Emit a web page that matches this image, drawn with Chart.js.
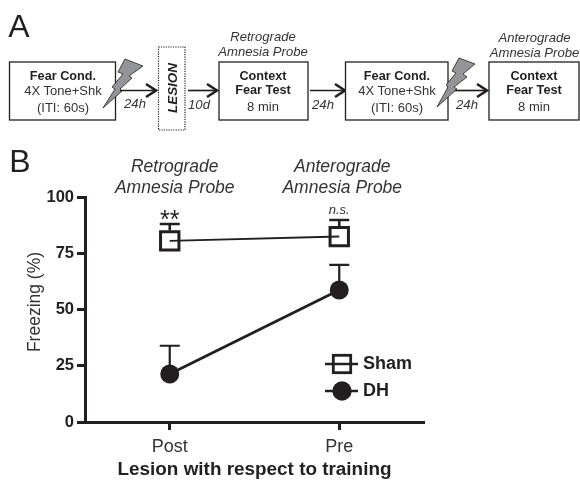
<!DOCTYPE html>
<html><head><meta charset="utf-8">
<script src="https://cdn.jsdelivr.net/npm/chart.js@4/dist/chart.umd.min.js"></script>
<style>
html,body{margin:0;padding:0;background:#fff;width:580px;height:481px;overflow:hidden}
#c{position:absolute;left:0;top:0}
#s{position:absolute;left:0;top:0}
#s text{font-family:"Liberation Sans",Arial,sans-serif;fill:#231f20;text-anchor:middle}
#s .b{font-weight:bold;font-size:12.7px}
#s .n{font-size:13px;fill:#333}
#s .i{font-style:italic;font-size:13.1px;fill:#333}
#s .box{fill:#fff;stroke:#231f20;stroke-width:1.3}
#s .bolt{fill:#939598;stroke:#231f20;stroke-width:.8}
#s .arr{fill:none;stroke:#231f20;stroke-width:1.7}
#s .hd{fill:none;stroke:#231f20;stroke-width:2.6}
</style></head><body>
<canvas id="c" width="580" height="481"></canvas>
<svg id="s" width="580" height="481" viewBox="0 0 580 481">
<text x="19" y="37" style="font-size:32px">A</text>
<text x="20" y="172" style="font-size:32px">B</text>

<rect class="box" x="9.5" y="62" width="106" height="58"/>
<text class="b" x="63" y="80">Fear Cond.</text><text class="n" x="63" y="95">4X Tone+Shk</text><text class="n" x="63" y="112">(ITI: 60s)</text>
<polygon class="bolt" points="125,59 143,66 129,76 132,78 120,89 122,91 103,108 115,89 112,87 123,74 118,72"/>
<path class="arr" d="M120 90.5H155"/><path class="hd" d="M146 84L156 90.5L146 97"/>
<text class="i" x="135" y="108">24h</text>

<rect x="158.5" y="47" width="26.5" height="83" fill="#fff" stroke="#231f20" stroke-width="1.2" stroke-dasharray="1.2 1.2"/>
<text x="172" y="88" transform="rotate(-90 172 88)" dy="4.5" style="font-size:13.4px;font-weight:bold;font-style:italic">LESION</text>

<path class="arr" d="M188 90.5H216"/><path class="hd" d="M207 84L217 90.5L207 97"/>
<text class="i" x="199" y="109">10d</text>

<rect class="box" x="219" y="62" width="89" height="58"/>
<text class="i" x="263" y="41">Retrograde</text><text class="i" x="263" y="55.5">Amnesia Probe</text>
<text class="b" x="263" y="80">Context</text><text class="b" x="263" y="94">Fear Test</text><text class="n" x="263" y="111">8 min</text>

<path class="arr" d="M310 90.5H344"/><path class="hd" d="M335 84L345 90.5L335 97"/>
<text class="i" x="323" y="109">24h</text>

<rect class="box" x="345.5" y="62" width="102.5" height="58"/>
<text class="b" x="397" y="80">Fear Cond.</text><text class="n" x="397" y="95">4X Tone+Shk</text><text class="n" x="397" y="112">(ITI: 60s)</text>
<polygon class="bolt" points="459,58 475,64 463,74 467,77 454,87 457,89 437,107 448,87 446,85 456,73 452,71"/>
<path class="arr" d="M455 90.5H486"/><path class="hd" d="M477 84L487 90.5L477 97"/>
<text class="i" x="467" y="109">24h</text>

<rect class="box" x="489" y="62" width="90" height="58"/>
<text class="i" x="534.5" y="42">Anterograde</text><text class="i" x="534.5" y="57">Amnesia Probe</text>
<text class="b" x="534" y="80">Context</text><text class="b" x="534" y="94">Fear Test</text><text class="n" x="534" y="111">8 min</text>
</svg>
<script>
const categories = ["Post", "Pre"];
const yTicks = [0, 25, 50, 75, 100];
const shamValues = [80.5, 82.4];
const shamErrors = [7.5, 7.4];
const dhValues = [21.3, 58.7];
const dhErrors = [12.6, 11.1];
const seriesNames = ["Sham", "DH"];
const significance = ["**", "n.s."];
const probeLines = [["Retrograde", "Amnesia Probe"], ["Anterograde", "Amnesia Probe"]];
const yAxisTitle = "Freezing (%)";

const INK = "#231f20";
const FONT = '"Liberation Sans", Arial, sans-serif';

const annotate = {
  id: "annotate",
  afterDatasetsDraw(chart) {
    const { ctx, scales: { x, y } } = chart;
    ctx.save();
    ctx.strokeStyle = INK; ctx.fillStyle = INK;
    const bars = [[shamValues, shamErrors, 10.7, 2.6], [dhValues, dhErrors, 9, 2.2]];
    bars.forEach(([vals, errs, markerR, w]) => vals.forEach((v, i) => {
      const px = x.getPixelForValue(i);
      const top = y.getPixelForValue(v + errs[i]);
      ctx.lineWidth = w;
      ctx.beginPath();
      ctx.moveTo(px, y.getPixelForValue(v) - markerR);
      ctx.lineTo(px, top);
      ctx.moveTo(px - 10, top);
      ctx.lineTo(px + 10, top);
      ctx.stroke();
    }));
    ctx.textAlign = "center"; ctx.textBaseline = "alphabetic";
    ctx.fillStyle = "#333";
    ctx.font = "italic 17.5px " + FONT;
    probeLines.forEach((ls, i) => {
      const px = x.getPixelForValue(i) + (i === 0 ? 5 : 3);
      ctx.fillText(ls[0], px, 172);
      ctx.fillText(ls[1], px, 193);
    });
    ctx.fillStyle = INK;
    ctx.font = "25px " + FONT;
    ctx.fillText(significance[0], x.getPixelForValue(0), 228);
    ctx.fillStyle = "#333";
    ctx.font = "italic 13px " + FONT;
    ctx.fillText(significance[1], x.getPixelForValue(1), 214);
    ctx.save();
    ctx.translate(40, 302);
    ctx.rotate(-Math.PI / 2);
    ctx.font = "17.5px " + FONT;
    ctx.fillText(yAxisTitle, 0, 0);
    ctx.restore();
    const lx0 = 325, lx1 = 358, lys = [364, 391];
    ctx.fillStyle = INK; ctx.textAlign = "left"; ctx.textBaseline = "middle";
    ctx.font = "bold 18px " + FONT;
    lys.forEach((ly, i) => {
      ctx.lineWidth = 2.4;
      ctx.beginPath(); ctx.moveTo(lx0, ly); ctx.lineTo(lx1, ly); ctx.stroke();
      const cx = (lx0 + lx1) / 2 + 0.5;
      if (i === 0) { ctx.lineWidth = 2.8; ctx.strokeRect(cx - 8.7, ly - 8.7, 17.4, 17.4); }
      else { ctx.beginPath(); ctx.arc(cx, ly, 9.7, 0, Math.PI * 2); ctx.fill(); }
      ctx.fillText(seriesNames[i], 363, ly + 0.5);
    });
    ctx.restore();
  }
};

new Chart(document.getElementById("c"), {
  type: "line",
  data: {
    labels: categories,
    datasets: [
      { label: seriesNames[0], data: shamValues, borderColor: INK, borderWidth: 2, tension: 0,
        pointStyle: "rect", pointRadius: 13, pointHoverRadius: 13, pointBorderWidth: 3,
        pointBorderColor: INK, pointBackgroundColor: "transparent" },
      { label: seriesNames[1], data: dhValues, borderColor: INK, borderWidth: 2.8, tension: 0,
        pointStyle: "circle", pointRadius: 9.5, pointHoverRadius: 9.5, pointBorderWidth: 0,
        pointBackgroundColor: INK }
    ]
  },
  options: {
    responsive: false, animation: false,
    layout: { padding: { left: 22, right: 156, top: 197, bottom: 0 } },
    plugins: { legend: { display: false }, tooltip: { enabled: false } },
    scales: {
      x: {
        offset: true,
        afterFit: s => { s.height = 59; },
        grid: { drawOnChartArea: false, drawTicks: true, tickLength: 8, tickWidth: 3, tickColor: INK, offset: false },
        border: { color: INK, width: 3 },
        ticks: { color: "#333", font: { family: FONT, size: 18 }, padding: 6, maxRotation: 0 },
        title: { display: true, text: "Lesion with respect to training", color: INK,
                 font: { family: FONT, size: 18.9, weight: "bold" }, padding: { top: 0, bottom: 0 } }
      },
      y: {
        min: 0, max: 100,
        afterFit: s => { s.width = 63; },
        afterBuildTicks: s => { s.ticks = yTicks.map(v => ({ value: v })); },
        grid: { drawOnChartArea: false, tickLength: 8, tickWidth: 3, tickColor: INK },
        border: { color: INK, width: 3 },
        ticks: { color: INK, font: { family: FONT, size: 16.5, weight: "bold" }, padding: 3 }
      }
    }
  },
  plugins: [annotate]
});
</script>
</body></html>
